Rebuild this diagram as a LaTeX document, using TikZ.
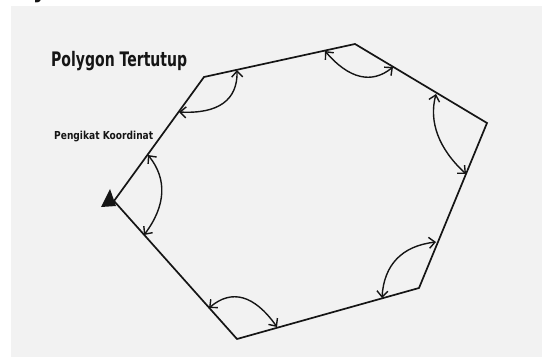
\documentclass[tikz,border=0pt]{standalone}
\usepackage{fontspec}
\setmainfont{DejaVu Sans}
\usetikzlibrary{arrows.meta}
\definecolor{bggray}{HTML}{F2F2F2}
\definecolor{ink}{HTML}{151515}
\begin{document}
\begin{tikzpicture}[x=1pt,y=-1pt,
  edge/.style={draw=ink,line width=1.7pt,line join=miter},
  turn/.style={draw=ink,line width=1.4pt,{Straight Barb[length=6pt,width=11pt,line width=1.4pt]}-{Straight Barb[length=6pt,width=11pt,line width=1.4pt]}},
  lbl/.style={inner sep=0pt,anchor=base west,text=ink}]
\useasboundingbox (0,0) rectangle (543,358);
\fill[white] (0,0) rectangle (543,358);
\fill[bggray] (11,6) rectangle (542,357);
% cropped fragment at top
\begin{scope}
\clip (0,0) rectangle (543,6);
\node[lbl,font=\bfseries\fontsize{20}{20}\selectfont] (frag) at (33,-1) {y};
\end{scope}
% vertices
\coordinate (v1) at (114,201);
\coordinate (v2) at (204,77);
\coordinate (v3) at (355,44);
\coordinate (v4) at (487,123);
\coordinate (v5) at (419,288);
\coordinate (v6) at (237,339);
\draw[edge] (v1) -- (v2) -- (v3) -- (v4) -- (v5) -- (v6) -- cycle;
% binding coordinate marker
\fill[ink] (110,189) -- (101,207) -- (116,206) -- cycle;
% turning arcs
\coordinate (a2) at (237,70);  \coordinate (b2) at (179,112);
\coordinate (a3) at (325,51);  \coordinate (b3) at (393,67);
\coordinate (a4) at (436,94);  \coordinate (b4) at (466,174);
\coordinate (a5) at (436,242); \coordinate (b5) at (382,298);
\coordinate (a6) at (209,308); \coordinate (b6) at (277,327);
\coordinate (a1) at (148,155); \coordinate (b1) at (144,235);
\draw[turn] (a2) .. controls (237.7,100) and (218.3,114) .. (b2);
\draw[turn] (a3) .. controls (349,79) and (371.7,84.3) .. (b3);
\draw[turn] (a4) .. controls (428.7,122) and (438.7,148.7) .. (b4);
\draw[turn] (a5) .. controls (402,246) and (384,264.7) .. (b5);
\draw[turn] (a6) .. controls (231.7,288.7) and (254.3,295) .. (b6);
\draw[turn] (a1) .. controls (167.3,179) and (166,205.7) .. (b1);
% labels
\node[lbl,font=\bfseries\fontsize{20}{20}\selectfont] (title) at (51,67) {\resizebox{136pt}{\height}{Polygon Tertutup}};
\node[lbl,font=\bfseries\fontsize{11}{11}\selectfont] (bind) at (54,139.5) {\resizebox{99pt}{\height}{Pengikat Koordinat}};
\end{tikzpicture}
\end{document}
